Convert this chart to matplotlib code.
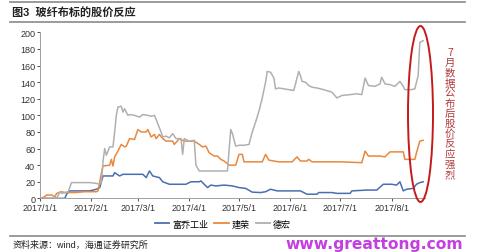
import numpy as np
import pandas as pd
import matplotlib
matplotlib.use("Agg")
import matplotlib.pyplot as plt
import matplotlib.dates as mdates
from matplotlib.patches import Ellipse
from matplotlib.lines import Line2D

plt.rcParams["font.family"] = ["Liberation Sans", "Noto Sans CJK SC", "DejaVu Sans"]

names = ["富乔工业", "建荣", "德宏"]
colors = ["#4a6eb0", "#e8893f", "#b0b0b0"]

fuqiao_dates = ["01-01", "01-16", "01-17", "01-19", "01-25", "01-31", "02-04", "02-06", "02-08",
                "02-14", "02-15", "02-18", "02-20", "02-24", "03-04", "03-06", "03-08", "03-10",
                "03-14", "03-16", "03-20", "03-26", "03-30", "04-02", "04-07", "04-08", "04-10",
                "04-12", "04-14", "04-17", "04-22", "04-27", "05-01", "05-05", "05-09", "05-14",
                "05-17", "05-20", "05-24", "05-31", "06-07", "06-11", "06-17", "06-18", "06-26",
                "06-29", "07-07", "07-08", "07-17", "07-23", "07-27", "08-01", "08-04", "08-06",
                "08-08", "08-10", "08-14", "08-16", "08-18", "08-20"]
fuqiao_vals = [0, 0, 5, 9, 9, 9, 11, 13, 27,
               27, 31, 27, 29, 29, 29, 25, 33, 27,
               25, 20, 17, 17, 17, 20, 20, 21, 17,
               13, 16, 15, 16, 15, 13, 12, 7.5, 7,
               8, 11, 9, 9, 9, 5, 5, 7, 7,
               6, 6, 9, 10, 10, 17, 17, 16, 20,
               9, 11, 12, 17, 19, 20]

jianrong_dates = ["01-01", "01-03", "01-05", "01-08", "01-10", "01-11", "01-14", "01-16", "01-22",
                  "01-28", "02-04", "02-05", "02-07", "02-08", "02-12", "02-13", "02-14", "02-15",
                  "02-17", "02-19", "02-21", "02-22", "02-24", "02-27", "03-01", "03-03", "03-06",
                  "03-07", "03-09", "03-11", "03-12", "03-14", "03-16", "03-18", "03-22", "03-23",
                  "03-26", "03-29", "04-04", "04-07", "04-09", "04-11", "04-13", "04-16", "04-18",
                  "04-20", "04-22", "04-25", "04-29", "05-01", "05-03", "05-04", "05-15", "05-17",
                  "05-19", "05-25", "06-02", "06-05", "06-07", "06-11", "06-12", "06-14", "07-01",
                  "07-14", "07-16", "07-18", "07-25", "07-28", "07-31", "08-08", "08-09", "08-15",
                  "08-16", "08-18", "08-20"]
jianrong_vals = [0, 1, 4, 4, 2, 6, 8, 7, 7,
                 8, 8, 9, 30, 39, 40, 47, 39, 50,
                 57, 65, 62, 63, 72, 71, 83, 80, 80,
                 83, 74, 77, 72, 77, 72, 69, 69, 65,
                 72, 69, 69, 65, 62, 63, 55, 51, 51,
                 47, 45, 40, 40, 53, 53, 44, 44, 53,
                 46, 44, 44, 50, 45, 45, 47, 44, 44,
                 43, 57, 51, 51, 50, 56, 56, 47, 47,
                 55, 69, 70]

dehong_dates = ["01-01", "01-11", "01-13", "01-14", "01-16", "01-18", "01-20", "01-25", "01-31",
                "02-04", "02-06", "02-07", "02-08", "02-09", "02-10", "02-12", "02-14", "02-15",
                "02-16", "02-17", "02-19", "02-20", "02-21", "02-23", "02-24", "02-27", "03-02",
                "03-04", "03-07", "03-09", "03-11", "03-13", "03-15", "03-16", "03-18", "03-20",
                "03-22", "03-24", "03-27", "03-28", "03-29", "04-01", "04-04", "04-05", "04-07",
                "04-16", "04-24", "04-26", "04-27", "04-29", "05-01", "05-04", "05-07", "05-09",
                "05-11", "05-13", "05-15", "05-17", "05-18", "05-20", "05-22", "05-23", "05-25",
                "05-28", "05-31", "06-03", "06-06", "06-07", "06-08", "06-10", "06-12", "06-14",
                "06-17", "06-21", "06-26", "06-29", "07-02", "07-07", "07-11", "07-14", "07-16",
                "07-18", "07-22", "07-25", "07-26", "07-28", "07-31", "08-03", "08-06", "08-08",
                "08-09", "08-13", "08-15", "08-17", "08-18", "08-20"]
dehong_vals = [0, 0, 8, 6, 7, 8, 19, 19, 19,
               18, 17, 20, 45, 60, 52, 62, 62, 80,
               100, 110, 111, 104, 108, 100, 101, 100, 98,
               101, 100, 99, 100, 90, 80, 74, 75, 73,
               78, 72, 72, 53, 72, 69, 70, 40, 33,
               33, 33, 83, 78, 63, 64, 64, 65, 80,
               92, 105, 121, 140, 153, 152, 145, 132, 133,
               132, 131, 130, 153, 148, 141, 140, 136, 134,
               133, 131, 128, 121, 124, 125, 126, 125, 145,
               136, 135, 138, 146, 138, 137, 135, 141, 135,
               131, 131, 132, 148, 188, 190]

series = [(fuqiao_dates, fuqiao_vals), (jianrong_dates, jianrong_vals), (dehong_dates, dehong_vals)]

yticks = [0, 20, 40, 60, 80, 100, 120, 140, 160, 180, 200]
month_ticks = pd.date_range("2017-01-01", "2017-08-01", freq="MS")
tick_labels = [f"2017/{d.month}/1" for d in month_ticks]

fig = plt.figure(figsize=(4.78, 2.53), dpi=100)
ax = fig.add_axes([0.0837, 0.212, 0.805, 0.656])

for (dates, vals), name, c in zip(series, names, colors):
    x = pd.to_datetime(["2017-" + d for d in dates])
    ax.plot(x, vals, color=c, lw=1.1, label=name)

ax.set_ylim(0, 200)
ax.set_yticks(yticks)
ax.set_xlim(pd.Timestamp("2017-01-01"), pd.Timestamp("2017-08-21"))
ax.set_xticks(month_ticks)
ax.set_xticklabels(tick_labels)
ax.tick_params(labelsize=6.5, colors="#333333", length=2, width=0.6, pad=1.5)
for s in ["top", "right"]:
    ax.spines[s].set_visible(False)
for s in ["left", "bottom"]:
    ax.spines[s].set_color("#a0a0a0")
    ax.spines[s].set_linewidth(0.7)

handles = [Line2D([], [], color=c, lw=1.3) for c in colors]
fig.legend(handles, names, loc="center", bbox_to_anchor=(223 / 478, 1 - 225 / 253),
           ncol=3, frameon=False, fontsize=6.5, handlelength=1.6, handletextpad=0.3,
           columnspacing=0.7)

# header / footer rules
for yy in [3, 23, 237]:
    fig.add_artist(Line2D([10 / 478, 465 / 478], [1 - yy / 253] * 2, color="#8a8a8a", lw=1.2))

fig.text(12 / 478, 1 - 13 / 253, "图3  玻纤布标的股价反应", fontsize=8, fontweight="bold",
         color="#222222", va="center", ha="left")
fig.text(13 / 478, 1 - 245 / 253, "资料来源：wind，海通证券研究所", fontsize=6.5,
         color="#222222", va="center", ha="left")
fig.text(463 / 478, 1 - 245 / 253, "www.greattong.com", fontsize=11.2, fontweight="bold",
         family="DejaVu Sans", color="#c43fe0", va="center", ha="right")

# highlight of the August reaction
fig.add_artist(Ellipse((420.5 / 478, 1 - 115 / 253), 25 / 478, 176 / 253, fill=False,
                       edgecolor="#c41a1a", lw=1.4))
fig.text(450 / 478, 1 - 114 / 253, "\n".join("7月数据公布后股价反应强烈"), fontsize=7.5,
         color="#b03a3a", ha="center", va="center", linespacing=1.02,
         family=["Noto Sans CJK SC", "DejaVu Sans"])

fig.savefig("out.png", dpi=100, facecolor="white")
